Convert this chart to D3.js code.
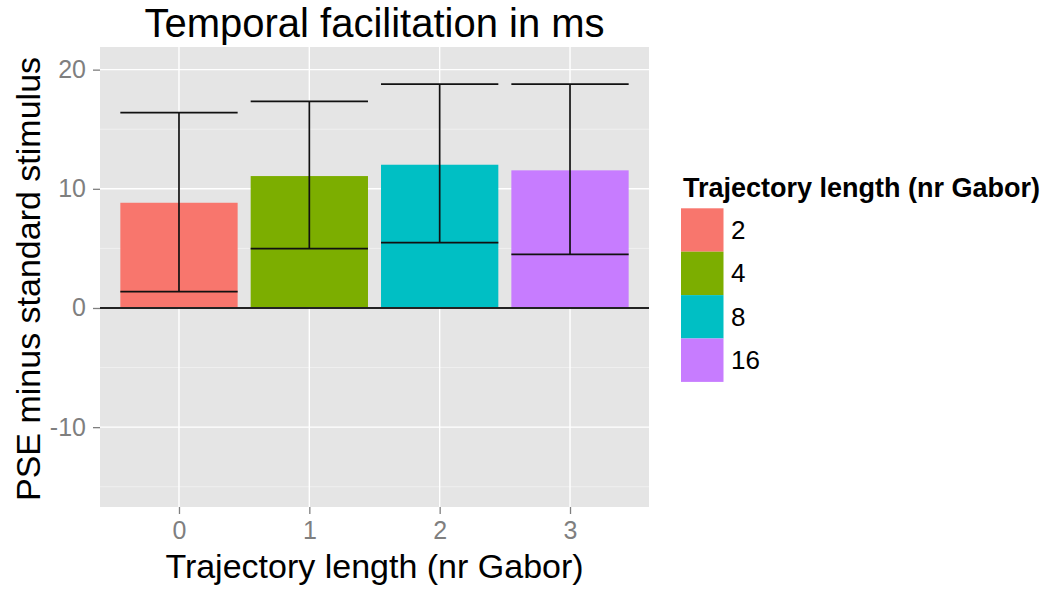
<!DOCTYPE html>
<html>
<head>
<meta charset="utf-8">
<script src="https://cdn.jsdelivr.net/npm/d3@7"></script>
<style>
  html, body { margin: 0; padding: 0; background: #ffffff; }
  svg { display: block; font-family: "Liberation Sans", Arial, sans-serif; }
</style>
</head>
<body>
<svg id="chart" width="1056" height="590"></svg>
<script>
// Mean PSE offset per trajectory length, with error-bar bounds
const positions = [0, 1, 2, 3];
const groupLabels = ["2", "4", "8", "16"];
const means = [8.83, 11.07, 12.02, 11.55];
const upper = [16.4, 17.34, 18.79, 18.79];
const lower = [1.37, 4.98, 5.48, 4.5];
const colors = ["#F8766D", "#7CAE00", "#00BFC4", "#C77CFF"];
const xTicks = [0, 1, 2, 3];
const yTicks = [-10, 0, 10, 20];
const yMinor = [-15, -5, 5, 15];

const svg = d3.select("#chart");
const panel = { left: 100, right: 649, top: 47, bottom: 507 };

const x = d3.scaleLinear().domain([-0.606, 3.606]).range([panel.left, panel.right]);
const y = d3.scaleLinear().domain([-16.7, 21.9]).range([panel.bottom, panel.top]);
const barW = 0.9;

// panel background
svg.append("rect")
  .attr("x", panel.left).attr("y", panel.top)
  .attr("width", panel.right - panel.left).attr("height", panel.bottom - panel.top)
  .attr("fill", "#e5e5e5");

// minor gridlines
svg.append("g").selectAll("line").data(yMinor).join("line")
  .attr("x1", panel.left).attr("x2", panel.right)
  .attr("y1", d => y(d)).attr("y2", d => y(d))
  .attr("stroke", "#f2f2f2").attr("stroke-width", 0.8);

// major gridlines
svg.append("g").selectAll("line").data(yTicks).join("line")
  .attr("x1", panel.left).attr("x2", panel.right)
  .attr("y1", d => y(d)).attr("y2", d => y(d))
  .attr("stroke", "#ffffff").attr("stroke-width", 1.4);
svg.append("g").selectAll("line").data(xTicks).join("line")
  .attr("y1", panel.top).attr("y2", panel.bottom)
  .attr("x1", d => x(d)).attr("x2", d => x(d))
  .attr("stroke", "#ffffff").attr("stroke-width", 1.4);

// bars
svg.append("g").selectAll("rect").data(positions).join("rect")
  .attr("x", (d) => x(d - barW / 2))
  .attr("width", (d) => x(d + barW / 2) - x(d - barW / 2))
  .attr("y", (d, i) => y(Math.max(0, means[i])))
  .attr("height", (d, i) => Math.abs(y(means[i]) - y(0)))
  .attr("fill", (d, i) => colors[i]);

// reference line at zero
svg.append("line")
  .attr("x1", panel.left).attr("x2", panel.right)
  .attr("y1", y(0)).attr("y2", y(0))
  .attr("stroke", "#222222").attr("stroke-width", 1.8);

// error bars
const eb = svg.append("g").attr("stroke", "#111111").attr("stroke-width", 1.7).attr("fill", "none");
positions.forEach((p, i) => {
  eb.append("line").attr("x1", x(p)).attr("x2", x(p)).attr("y1", y(upper[i])).attr("y2", y(lower[i]));
  eb.append("line").attr("x1", x(p - barW / 2)).attr("x2", x(p + barW / 2)).attr("y1", y(upper[i])).attr("y2", y(upper[i]));
  eb.append("line").attr("x1", x(p - barW / 2)).attr("x2", x(p + barW / 2)).attr("y1", y(lower[i])).attr("y2", y(lower[i]));
});

// axes
const plainNum = d => String(d);
const yAxis = d3.axisLeft(y).tickValues(yTicks).tickSize(7).tickPadding(7).tickFormat(plainNum);
const gy = svg.append("g").attr("transform", `translate(${panel.left},0)`).call(yAxis);
const xAxis = d3.axisBottom(x).tickValues(xTicks).tickSize(7).tickPadding(7).tickFormat(plainNum);
const gx = svg.append("g").attr("transform", `translate(0,${panel.bottom})`).call(xAxis);
[gx, gy].forEach(g => {
  g.select(".domain").remove();
  g.selectAll(".tick line").attr("stroke", "#7f7f7f").attr("stroke-width", 1.3);
  g.selectAll(".tick text").attr("fill", "#7f7f7f").style("font-size", "25px")
    .style("font-family", "Liberation Sans, Arial, sans-serif");
});

// title
svg.append("text")
  .attr("x", (panel.left + panel.right) / 2).attr("y", 37)
  .attr("text-anchor", "middle").style("font-size", "40px").attr("fill", "#000")
  .text("Temporal facilitation in ms");

// axis titles
svg.append("text")
  .attr("x", (panel.left + panel.right) / 2).attr("y", 578)
  .attr("text-anchor", "middle").style("font-size", "34px").attr("fill", "#000")
  .text("Trajectory length (nr Gabor)");
svg.append("text")
  .attr("transform", `translate(40,${(panel.top + panel.bottom) / 2 + 2}) rotate(-90)`)
  .attr("text-anchor", "middle").style("font-size", "34px").attr("fill", "#000")
  .text("PSE minus standard stimulus");

// legend
const legend = svg.append("g").attr("transform", "translate(681,0)");
legend.append("text")
  .attr("x", 2).attr("y", 197)
  .style("font-size", "27px").style("font-weight", "bold").attr("fill", "#000")
  .text("Trajectory length (nr Gabor)");
const keyH = 43.4, keyW = 42.5, keyTop = 208.3;
groupLabels.forEach((lab, i) => {
  legend.append("rect")
    .attr("x", 0).attr("y", keyTop + i * keyH)
    .attr("width", keyW).attr("height", keyH)
    .attr("fill", colors[i]);
  legend.append("text")
    .attr("x", 50).attr("y", keyTop + i * keyH + keyH / 2)
    .attr("dominant-baseline", "central")
    .style("font-size", "26px").attr("fill", "#000")
    .text(lab);
});
</script>
</body>
</html>
